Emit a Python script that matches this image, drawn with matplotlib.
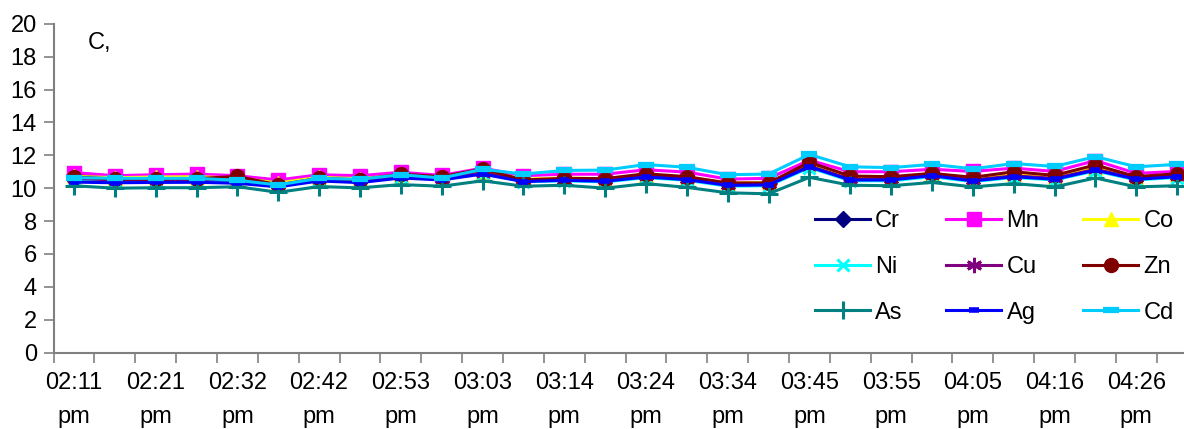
import numpy as np
import matplotlib
matplotlib.use("Agg")
import matplotlib.pyplot as plt

plt.rcParams['font.family'] = ['Liberation Sans', 'DejaVu Sans']

# Sample times (every other one is labelled on the axis)
time_labels = ["02:11\npm", "02:21\npm", "02:32\npm", "02:42\npm", "02:53\npm",
               "03:03\npm", "03:14\npm", "03:24\npm", "03:34\npm", "03:45\npm",
               "03:55\npm", "04:05\npm", "04:16\npm", "04:26\npm"]
n_samples = 28

Cr = [10.80, 10.68, 10.72, 10.74, 10.66, 10.38, 10.70, 10.62, 10.85, 10.66,
      10.98, 10.50, 10.58, 10.52, 10.78, 10.62, 10.26, 10.30, 11.40, 10.60,
      10.60, 10.85, 10.54, 10.80, 10.64, 11.20, 10.64, 10.80]
Mn = [10.95, 10.76, 10.82, 10.86, 10.76, 10.50, 10.82, 10.76, 10.97, 10.78,
      11.22, 10.76, 10.85, 10.85, 11.12, 10.98, 10.55, 10.60, 11.70, 11.00,
      11.00, 11.15, 11.02, 11.22, 11.02, 11.68, 10.90, 11.02]
Co = [10.72, 10.64, 10.68, 10.70, 10.62, 10.32, 10.66, 10.58, 10.80, 10.62,
      11.00, 10.55, 10.62, 10.58, 10.82, 10.66, 10.32, 10.35, 11.45, 10.65,
      10.64, 10.90, 10.58, 10.85, 10.68, 11.25, 10.68, 10.85]
Ni = [10.48, 10.42, 10.45, 10.46, 10.40, 10.14, 10.50, 10.42, 10.70, 10.55,
      10.90, 10.40, 10.45, 10.38, 10.64, 10.48, 10.12, 10.15, 11.25, 10.45,
      10.45, 10.70, 10.40, 10.65, 10.50, 11.05, 10.50, 10.65]
Cu = [10.60, 10.50, 10.52, 10.54, 10.48, 10.20, 10.55, 10.48, 10.75, 10.58,
      10.95, 10.45, 10.52, 10.48, 10.74, 10.57, 10.22, 10.25, 11.35, 10.55,
      10.55, 10.80, 10.50, 10.75, 10.60, 11.15, 10.60, 10.75]
Zn = [10.68, 10.56, 10.56, 10.58, 10.72, 10.20, 10.60, 10.50, 10.86, 10.70,
      11.17, 10.50, 10.60, 10.58, 10.88, 10.70, 10.32, 10.32, 11.57, 10.74,
      10.70, 10.90, 10.66, 11.00, 10.78, 11.41, 10.70, 10.88]
As = [10.15, 10.00, 10.03, 10.03, 10.09, 9.75, 10.10, 10.02, 10.22, 10.12,
      10.45, 10.12, 10.18, 10.00, 10.28, 10.05, 9.72, 9.66, 10.66, 10.18,
      10.15, 10.35, 10.08, 10.28, 10.08, 10.62, 10.08, 10.15]
Ag = [10.37, 10.33, 10.35, 10.36, 10.30, 10.08, 10.44, 10.34, 10.62, 10.50,
      10.86, 10.40, 10.48, 10.42, 10.68, 10.52, 10.17, 10.20, 11.30, 10.50,
      10.50, 10.76, 10.44, 10.70, 10.54, 11.10, 10.54, 10.70]
Cd = [10.64, 10.60, 10.60, 10.60, 10.48, 10.20, 10.60, 10.54, 10.82, 10.62,
      11.15, 10.86, 11.08, 11.10, 11.44, 11.27, 10.82, 10.86, 12.05, 11.30,
      11.25, 11.45, 11.18, 11.50, 11.32, 11.92, 11.30, 11.45]

series = [
    ("Cr", Cr, dict(color="#000080", marker="D", ms=8.5)),
    ("Mn", Mn, dict(color="#FF00FF", marker="s", ms=10)),
    ("Co", Co, dict(color="#FFFF00", marker="^", ms=10)),
    ("Ni", Ni, dict(color="#00FFFF", marker="x", ms=9, mew=2.2)),
    ("Cu", Cu, dict(color="#800080", marker=(6, 2, 0), ms=11, mew=2.0)),
    ("Zn", Zn, dict(color="#800000", marker="o", ms=10)),
    ("As", As, dict(color="#008080", marker="+", ms=13, mew=2.2)),
    ("Ag", Ag, dict(color="#0000FF", marker="_", ms=6.5, mew=4)),
    ("Cd", Cd, dict(color="#00CCFF", marker="_", ms=11, mew=4.5)),
]

FS = 17
W, H = 1184, 429
fig = plt.figure(figsize=(W / 100, H / 100), dpi=100)
ax = fig.add_axes([53.5 / W, (H - 352.7) / H, (1197.6 - 53.5) / W, (352.7 - 23.7) / H])

x = np.arange(n_samples)
handles = []
for name, vals, st in series:
    ln, = ax.plot(x, vals, label=name, lw=2.2, color=st["color"], marker=st["marker"],
                  ms=st["ms"], mew=st.get("mew", 1.0), mec=st["color"], mfc=st["color"],
                  clip_on=False)
    handles.append(ln)

ax.set_xlim(-0.5, n_samples - 0.5)
ax.set_ylim(0, 20)
ax.set_yticks(np.arange(0, 21, 2))

# category boundaries carry the tick marks, labels sit on every other sample
ax.set_xticks(np.arange(-0.5, n_samples, 1.0))
ax.set_xticklabels([])
ax.set_xticks(np.arange(0, 2 * len(time_labels), 2), minor=True)
ax.set_xticklabels(time_labels, minor=True)
ax.tick_params(axis="x", which="minor", length=0, pad=14, labelsize=FS)
ax.tick_params(axis="x", which="major", length=7, width=1.2, color="#808080", direction="out")
ax.tick_params(axis="y", length=7, width=1.2, color="#808080", direction="out", pad=5, labelsize=FS)
for lbl in ax.get_xticklabels(minor=True):
    lbl.set_linespacing(1.72)

for side in ("top", "right"):
    ax.spines[side].set_visible(False)
for side in ("left", "bottom"):
    ax.spines[side].set_color("#808080")
    ax.spines[side].set_linewidth(1.5)

ax.text(0.34, 18.45, "C,", fontsize=FS, ha="left", va="baseline")

# legend reads row by row: Cr Mn Co / Ni Cu Zn / As Ag Cd
order = [0, 3, 6, 1, 4, 7, 2, 5, 8]
leg = fig.legend([handles[i] for i in order], [series[i][0] for i in order],
                 loc="center left", bbox_to_anchor=(815 / W, 1 - 267 / H), ncol=3,
                 frameon=False, fontsize=FS, handlelength=2.33, handletextpad=0.22,
                 columnspacing=1.85, labelspacing=1.0, borderpad=0, borderaxespad=0,
                 numpoints=1)

fig.savefig("out.png", dpi=100)
